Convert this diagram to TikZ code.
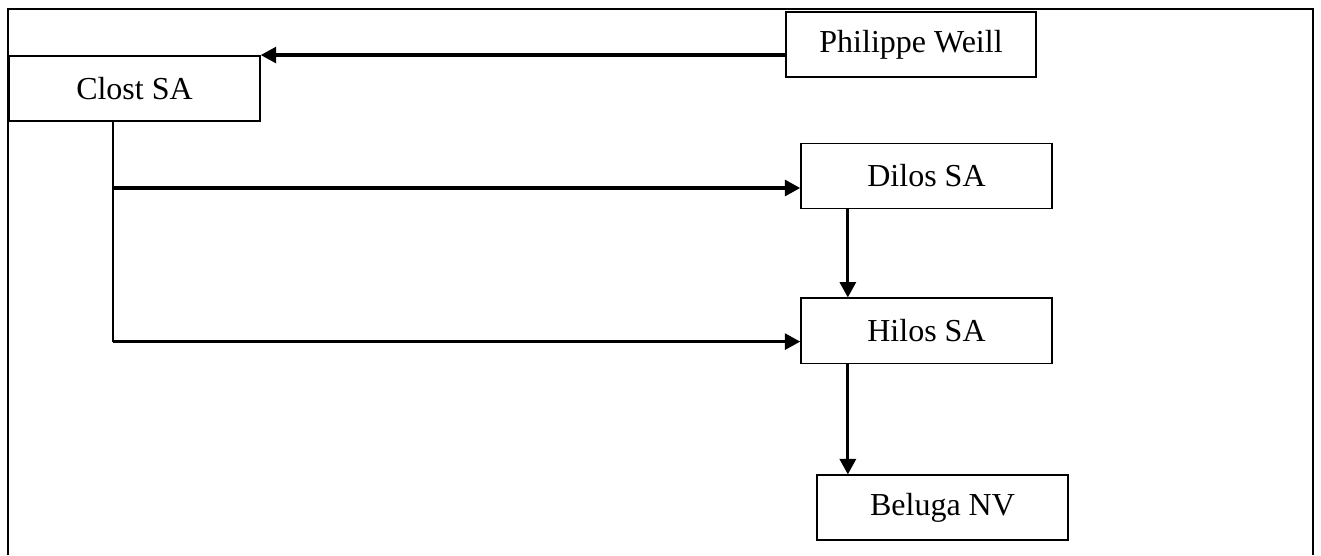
\documentclass[tikz,border=0pt]{standalone}
\usepackage{fontspec}
\setmainfont{Liberation Serif}
\usetikzlibrary{positioning,arrows.meta}

\begin{document}
\begin{tikzpicture}[x=0.375pt, y=-0.375pt,
  box/.style={draw, rectangle, line width=0.7pt, minimum width=94pt, minimum height=24.4pt,
    inner sep=0pt, font=\fontsize{12}{14}\selectfont},
  link/.style={line width=1.2pt, -{Triangle[length=5.8pt, width=6pt]}}]

  \useasboundingbox (0,0) rectangle (1321,555);

  % cadre ouvert en bas
  \draw[line width=0.7pt] (8,555) -- (8,9) -- (1313,9) -- (1313,555);

  \node[box] (clost) at (134.5,88.5) {Clost SA};
  \node[box] (weill) at (911,44.5) {Philippe Weill};
  \node[box] (dilos) at (926.5,176) {Dilos SA};
  \node[box, below=33pt of dilos] (hilos) {Hilos SA};
  \node[box, below=41.25pt of hilos, xshift=6pt] (beluga) {Beluga NV};

  \coordinate (trunk) at ([xshift=-8pt]clost.south);
  \coordinate (indilos) at ([yshift=-4.5pt]dilos.west);
  \coordinate (inhilos) at ([yshift=-4pt]hilos.west);

\draw[link] (weill.west |- clost.north east) -- (clost.north east);

\draw[line width=0.7pt] (trunk) -- (trunk |- inhilos);
\draw[link] (trunk |- indilos) -- (indilos);
\draw[link] (trunk |- inhilos) -- (inhilos);

\draw[link] ([xshift=-29.5pt]dilos.south) -- ([xshift=-29.5pt]hilos.north);
\draw[link] ([xshift=-29.5pt]hilos.south) -- ([xshift=-35.5pt]beluga.north);

\end{tikzpicture}
\end{document}
